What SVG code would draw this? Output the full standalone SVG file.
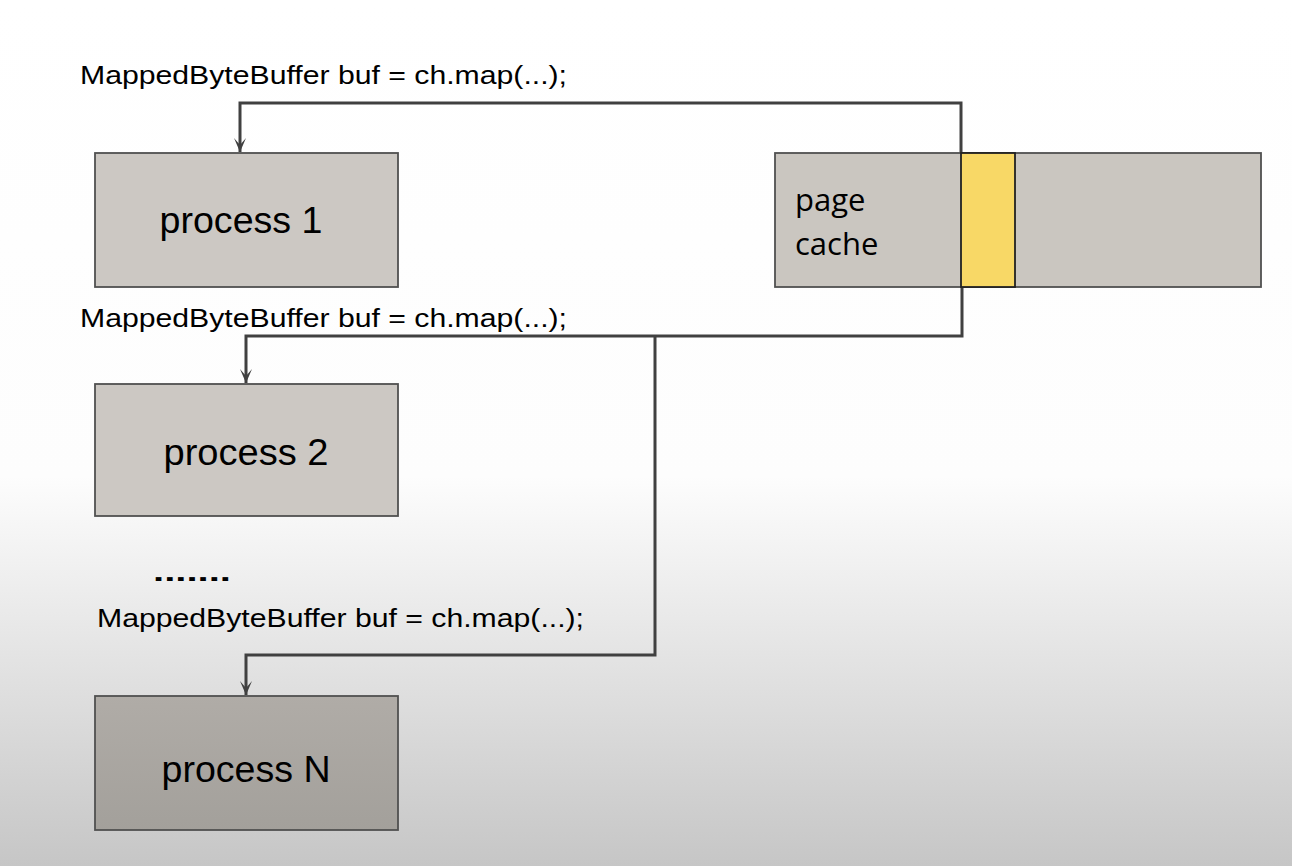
<svg xmlns="http://www.w3.org/2000/svg" width="1292" height="866" viewBox="0 0 1292 866">
<defs>
<linearGradient id="bg" x1="0" y1="0" x2="0" y2="1">
<stop offset="0" stop-color="#ffffff"/>
<stop offset="0.55" stop-color="#fdfdfd"/>
<stop offset="1" stop-color="#c6c6c6"/>
</linearGradient>
<linearGradient id="gN" x1="0" y1="0" x2="0" y2="1">
<stop offset="0" stop-color="#b0aca7"/>
<stop offset="1" stop-color="#a3a09b"/>
</linearGradient>
<marker id="arr" viewBox="0 0 14 12" refX="14" refY="6" markerWidth="14" markerHeight="12" markerUnits="userSpaceOnUse" orient="auto">
<path d="M0,0 L14,6 L0,12 L7,6 Z" fill="#404040"/>
</marker>
<style>
.box{fill:#ccc8c3;stroke:#505050;stroke-width:1.8}
.code{font-family:"Liberation Sans",Arial,sans-serif;font-size:25px;fill:#000}
.lbl{font-family:"Liberation Sans",Arial,sans-serif;font-size:36px;fill:#000;text-anchor:middle}
.pc{font-family:"Open Sans","Liberation Sans",sans-serif;font-size:31px;fill:#000}
.conn{fill:none;stroke:#404040;stroke-width:3;stroke-linejoin:miter}
</style>
</defs>
<rect x="0" y="0" width="1292" height="866" fill="url(#bg)"/>

<g id="connectors">
<path class="conn" d="M961,153 V103 H240 V152" marker-end="url(#arr)"/>
<path class="conn" d="M962,288 V336 H246 V383" marker-end="url(#arr)"/>
<path class="conn" d="M655,336 V655 H246 V695" marker-end="url(#arr)"/>
</g>

<g id="label1"><text class="code" x="80" y="84" textLength="487" lengthAdjust="spacingAndGlyphs">MappedByteBuffer buf = ch.map(...);</text></g>
<g id="label2"><text class="code" x="80" y="327" textLength="487" lengthAdjust="spacingAndGlyphs">MappedByteBuffer buf = ch.map(...);</text></g>
<g id="label3"><text class="code" x="97" y="627" textLength="487" lengthAdjust="spacingAndGlyphs">MappedByteBuffer buf = ch.map(...);</text></g>
<g id="dots"><text class="code" x="153" y="581" font-weight="bold" textLength="78" lengthAdjust="spacingAndGlyphs">.......</text></g>

<g id="process1">
<rect class="box" x="95" y="153" width="303" height="134"/>
<text class="lbl" x="241" y="233" textLength="163" lengthAdjust="spacingAndGlyphs">process 1</text>
</g>

<g id="process2">
<rect class="box" x="95" y="384" width="303" height="132"/>
<text class="lbl" x="246" y="465" textLength="165" lengthAdjust="spacingAndGlyphs">process 2</text>
</g>

<g id="processN">
<rect class="box" x="95" y="696" width="303" height="134" style="fill:url(#gN)"/>
<text class="lbl" x="246" y="782" textLength="169" lengthAdjust="spacingAndGlyphs">process N</text>
</g>

<g id="pagecache">
<rect class="box" x="775" y="153" width="486" height="134" style="fill:#cac6c0"/>
<rect x="961" y="153" width="54" height="134" fill="#f8d866" stroke="#222" stroke-width="1.8"/>
<text class="pc" x="795" y="211">page</text>
<text class="pc" x="795" y="255">cache</text>
</g>
</svg>
